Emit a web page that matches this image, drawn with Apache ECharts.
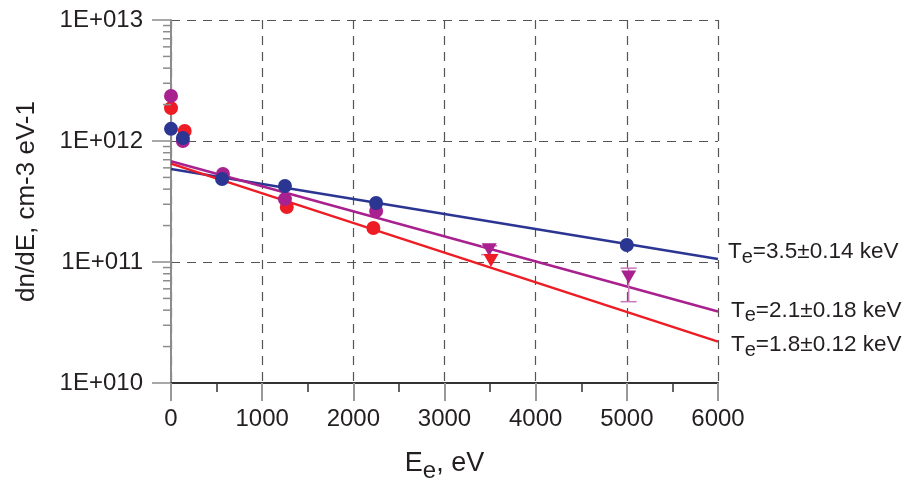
<!DOCTYPE html>
<html><head><meta charset="utf-8">
<script src="https://cdn.jsdelivr.net/npm/echarts@6/dist/echarts.min.js"></script>
<style>html,body{margin:0;padding:0;background:#fff}#c{width:908px;height:493px}</style>
</head><body><div id="c"></div>
<script>
// ---- data ----
const yTickLabels = ['1E+010', '1E+011', '1E+012', '1E+013'];
const fitX = [0, 6000];

const redCircX = [0, 150, 560, 1270, 2220];
const redCircY = [1.87e12, 1.21e12, 5.0e11, 2.85e11, 1.91e11];
const redTriX = [3510];
const redTriY = [1.03e11];
const redFit = [6.5e11, 2.2e10];

const magCircX = [0, 130, 570, 1250, 2250];
const magCircY = [2.36e12, 1.0e12, 5.33e11, 3.31e11, 2.64e11];
const magTriX = [3490, 5020];
const magTriY = [1.26e11, 7.5e10];
const magTriLow = [1.15e11, 4.7e10];
const magTriHigh = [1.36e11, 8.9e10];
const magFit = [6.8e11, 3.9e10];

const blueCircX = [0, 130, 560, 1250, 2250, 5000];
const blueCircY = [1.26e12, 1.06e12, 4.85e11, 4.25e11, 3.07e11, 1.38e11];
const blueFit = [5.87e11, 1.06e11];

const labelBlue = ['T', 'e', '=3.5±0.14 keV'];
const labelMag = ['T', 'e', '=2.1±0.18 keV'];
const labelRed = ['T', 'e', '=1.8±0.12 keV'];

// ---- styling ----
const FONT = '"Liberation Sans", Arial, sans-serif';
const TXT = '#231f20';
const RED = '#ee1c25', MAG = '#a8218e', BLUE = '#2b3592';

// minor tick positions 2..9 within each decade of the log axis
const minorTicks = [];
for (let e = 10; e < 13; e++) for (let k = 2; k <= 9; k++) minorTicks.push(k * Math.pow(10, e));

const zip = (xs, ys) => xs.map((x, i) => [x, ys[i]]);
const richLabel = {
  m: { fontSize: 22.5, fontFamily: FONT, color: TXT },
  s: { fontSize: 20, fontFamily: FONT, color: TXT, padding: [11, 0, 0, 0] }
};
const mkLabel = parts => `{m|${parts[0]}}{s|${parts[1]}}{m|${parts[2]}}`;

function fitSeries(vals, color, parts, offset) {
  return {
    type: 'line', data: zip(fitX, vals), showSymbol: false, symbol: 'none',
    lineStyle: { color: color, width: 2.5 }, z: 2, silent: true,
    endLabel: { show: true, formatter: () => mkLabel(parts), rich: richLabel, offset: offset, distance: 0 }
  };
}
function circSeries(xs, ys, color, z) {
  return { type: 'scatter', data: zip(xs, ys), symbol: 'circle', symbolSize: 14,
    itemStyle: { color: color, opacity: 1 }, z: z, silent: true };
}
function triSeries(xs, ys, color, z) {
  return { type: 'scatter', data: zip(xs, ys), symbol: 'triangle', symbolRotate: 180, symbolSize: [15, 13],
    itemStyle: { color: color, opacity: 1 }, z: z, silent: true };
}

const chart = echarts.init(document.getElementById('c'), null, { renderer: 'canvas' });
chart.setOption({
  animation: false,
  backgroundColor: '#fff',
  grid: { left: 171, right: 190, top: 20, bottom: 110, containLabel: false },
  xAxis: {
    type: 'value', min: 0, max: 6000, interval: 1000,
    axisLine: { onZero: false, lineStyle: { color: '#333', width: 2 } },
    axisTick: { length: 18, lineStyle: { color: '#999', width: 2 } },
    minorTick: { show: true, splitNumber: 2, length: 9, lineStyle: { color: '#333', width: 1.5 } },
    axisLabel: { fontSize: 24, fontFamily: FONT, color: TXT, margin: 24, formatter: v => String(v) },
    splitLine: { show: true, lineStyle: { type: [9, 7], color: '#555', width: 1.2 } },
    name: '{m|E}{s|e}{m|, eV}', nameLocation: 'middle', nameGap: 62,
    nameTextStyle: { rich: {
      m: { fontSize: 27, fontFamily: FONT, color: TXT },
      s: { fontSize: 24, fontFamily: FONT, color: TXT, padding: [14, 0, 0, 0] } } }
  },
  yAxis: {
    type: 'log', logBase: 10, min: 1e10, max: 1e13,
    axisLine: { show: true, onZero: false, lineStyle: { color: '#8c8c8c', width: 2 } },
    axisTick: { show: true, length: 19, lineStyle: { color: '#8c8c8c', width: 1.5 } },
    axisLabel: { fontSize: 24, fontFamily: FONT, color: TXT, margin: 28,
      formatter: v => yTickLabels[Math.round(Math.log10(v)) - 10] },
    splitLine: { show: true, lineStyle: { type: [9, 7], color: '#555', width: 1.2 } },
    name: 'dn/dE, cm-3 eV-1', nameLocation: 'middle', nameGap: 131,
    nameTextStyle: { fontSize: 26, fontFamily: FONT, color: TXT }
  },
  series: [
    {
      // minor ticks of the log y axis
      type: 'custom', z: 10, silent: true, clip: false,
      data: minorTicks.map(v => [0, v]),
      renderItem: (params, api) => {
        const p = api.coord([0, api.value(1)]);
        return { type: 'line', shape: { x1: p[0] - 8, y1: p[1], x2: p[0], y2: p[1] },
          style: { stroke: '#8c8c8c', lineWidth: 1.5 } };
      }
    },
    fitSeries(blueFit, BLUE, labelBlue, [10, -7]),
    fitSeries(magFit, MAG, labelMag, [13, -1]),
    fitSeries(redFit, RED, labelRed, [13, 3]),
    {
      type: 'custom', z: 3, silent: true,
      data: magTriX.map((x, i) => [x, magTriLow[i], magTriHigh[i]]),
      renderItem: (params, api) => {
        const lo = api.coord([api.value(0), api.value(1)]);
        const hi = api.coord([api.value(0), api.value(2)]);
        const w = 8, st = { stroke: '#c878b8', lineWidth: 1.5 };
        return { type: 'group', children: [
          { type: 'line', shape: { x1: lo[0], y1: lo[1], x2: hi[0], y2: hi[1] }, style: st },
          { type: 'line', shape: { x1: lo[0] - w, y1: lo[1], x2: lo[0] + w, y2: lo[1] }, style: st },
          { type: 'line', shape: { x1: hi[0] - w, y1: hi[1], x2: hi[0] + w, y2: hi[1] }, style: st }
        ] };
      }
    },
    circSeries(redCircX, redCircY, RED, 4),
    triSeries(redTriX, redTriY, RED, 6),
    circSeries(magCircX, magCircY, MAG, 5),
    triSeries(magTriX, magTriY, MAG, 5),
    circSeries(blueCircX, blueCircY, BLUE, 7)
  ]
});
</script>
</body></html>
